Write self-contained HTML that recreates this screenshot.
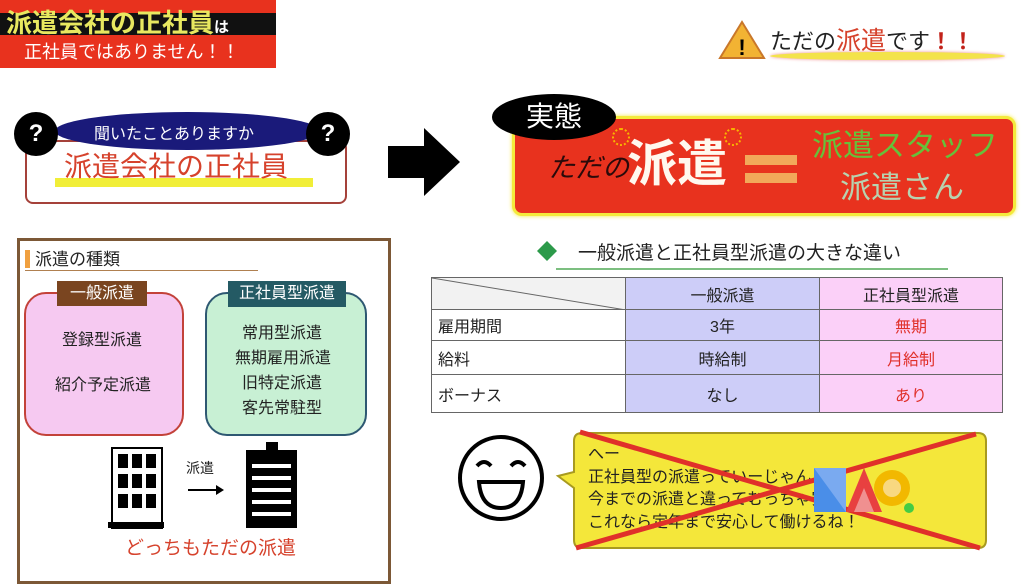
<!DOCTYPE html>
<html><head><meta charset="utf-8"><style>
body{margin:0;width:1024px;height:564px;position:relative;overflow:hidden;background:#fff;font-family:"Liberation Sans","Noto Sans CJK JP",sans-serif}
.a{position:absolute;white-space:nowrap}
td{border:1px solid #666;font-size:16px;padding:0 6px;color:#222}
</style></head><body>
<!-- top-left banner -->
<div class="a" style="left:0;top:0;width:276px;height:68px;background:#e8321e"></div>
<div class="a" style="left:0;top:13px;width:276px;height:22px;background:#111"></div>
<div class="a" style="left:6px;top:6px;font-size:26px;font-weight:bold;color:#e8e860;line-height:34px">派遣会社の正社員<span style="font-size:15px;color:#fff">は</span></div>
<div class="a" style="left:24px;top:39px;font-size:18px;color:#fff;line-height:26px">正社員ではありません！！</div>
<!-- question -->
<div class="a" style="left:25px;top:140px;width:318px;height:60px;border:2px solid #a5413a;border-radius:8px"></div>
<div class="a" style="left:55px;top:112px;width:265px;height:38px;background:#1a1a7a;border-radius:50%"></div>
<div class="a" style="left:94px;top:120px;font-size:16px;color:#fff">聞いたことありますか</div>
<div class="a" style="left:14px;top:112px;width:44px;height:44px;background:#000;border-radius:50%;color:#fff;font-size:24px;font-weight:bold;text-align:center;line-height:44px">?</div>
<div class="a" style="left:306px;top:112px;width:44px;height:44px;background:#000;border-radius:50%;color:#fff;font-size:24px;font-weight:bold;text-align:center;line-height:44px">?</div>
<div class="a" style="left:55px;top:178px;width:258px;height:9px;background:#f1ee38"></div>
<div class="a" style="left:64px;top:148px;font-size:28px;color:#d6422c;line-height:38px">派遣会社の正社員</div>
<!-- big arrow -->
<svg class="a" style="left:386px;top:126px" width="76" height="72"><polygon points="2,20 38,20 38,2 74,36 38,70 38,52 2,52" fill="#000"/></svg>
<!-- warning -->
<svg class="a" style="left:718px;top:20px" width="48" height="40"><polygon points="24,2 46,38 2,38" fill="#f2b333" stroke="#c9772a" stroke-width="2"/><text x="24" y="35" font-size="22" font-weight="bold" text-anchor="middle" fill="#000" font-family="Liberation Sans">!</text></svg>
<div class="a" style="left:770px;top:52px;width:235px;height:8px;background:#f3e34a;border-radius:50%;box-shadow:0 0 3px #e88"></div>
<div class="a" style="left:770px;top:25px;font-size:22px;color:#222;line-height:32px">ただの<span style="color:#d6422c;font-size:25px">派遣</span>です<b style="color:#c2221a">！！</b></div>
<!-- 実態 -->
<div class="a" style="left:512px;top:116px;width:498px;height:94px;background:#e8321e;border:3px solid #f4ea3c;border-radius:10px;box-shadow:0 0 4px #f4ea3c"></div>
<div class="a" style="left:492px;top:94px;width:124px;height:46px;background:#000;border-radius:50%;color:#fff;font-size:28px;text-align:center;line-height:46px">実態</div>
<div class="a" style="left:548px;top:150px;font-size:27px;color:#2a0a0a;font-style:italic;line-height:36px">ただの</div>
<div class="a" style="left:627px;top:134px;font-size:50px;color:#fff8ee;font-weight:bold;line-height:60px">派遣</div>
<div class="a" style="left:612px;top:128px;width:14px;height:14px;border:2px dotted #f8b400;border-radius:50%"></div>
<div class="a" style="left:724px;top:128px;width:14px;height:14px;border:2px dotted #f8b400;border-radius:50%"></div>
<div class="a" style="left:745px;top:155px;width:52px;height:10px;background:#f2a85a"></div>
<div class="a" style="left:745px;top:173px;width:52px;height:10px;background:#f2a85a"></div>
<div class="a" style="left:812px;top:126px;font-size:31px;color:#66c13a;line-height:40px">派遣スタッフ</div>
<div class="a" style="left:840px;top:168px;font-size:31px;color:#b7d3b0;line-height:40px">派遣さん</div>
<!-- left box -->
<div class="a" style="left:17px;top:238px;width:368px;height:340px;border:3px solid #7c5836"></div>
<div class="a" style="left:25px;top:250px;width:5px;height:18px;background:#f0a040"></div>
<div class="a" style="left:35px;top:245px;font-size:17px;color:#222">派遣の種類</div>
<div class="a" style="left:25px;top:270px;width:233px;height:1px;background:#b08050"></div>
<div class="a" style="left:24px;top:292px;width:160px;height:144px;background:#f6c9f1;border:2px solid #c3423a;border-radius:22px;box-sizing:border-box"></div>
<div class="a" style="left:57px;top:281px;width:90px;height:25px;background:#7a4520;color:#fff;font-size:16px;text-align:center;line-height:25px">一般派遣</div>
<div class="a" style="left:62px;top:326px;font-size:16px;color:#222">登録型派遣</div>
<div class="a" style="left:55px;top:371px;font-size:16px;color:#222">紹介予定派遣</div>
<div class="a" style="left:205px;top:292px;width:162px;height:144px;background:#c8f0d4;border:2px solid #2e5872;border-radius:22px;box-sizing:border-box"></div>
<div class="a" style="left:228px;top:281px;width:118px;height:26px;background:#245a64;color:#fff;font-size:16px;text-align:center;line-height:26px">正社員型派遣</div>
<div class="a" style="left:242px;top:321px;font-size:16px;color:#222;line-height:25px">常用型派遣<br><span style="margin-left:-7px">無期雇用派遣</span><br>旧特定派遣<br>客先常駐型</div>
<svg class="a" style="left:108px;top:440px" width="200" height="92">
<rect x="4" y="8" width="50" height="80" fill="#fff" stroke="#000" stroke-width="2"/>
<rect x="0" y="82" width="56" height="6" fill="#000"/>
<g fill="#000"><rect x="10" y="14" width="10" height="14"/><rect x="24" y="14" width="10" height="14"/><rect x="38" y="14" width="10" height="14"/>
<rect x="10" y="34" width="10" height="14"/><rect x="24" y="34" width="10" height="14"/><rect x="38" y="34" width="10" height="14"/>
<rect x="10" y="54" width="10" height="14"/><rect x="24" y="54" width="10" height="14"/><rect x="38" y="54" width="10" height="14"/></g>
<line x1="80" y1="50" x2="108" y2="50" stroke="#000" stroke-width="2"/><polygon points="108,45 116,50 108,55" fill="#000"/>
<rect x="138" y="10" width="51" height="78" fill="#000"/><rect x="158" y="2" width="12" height="10" fill="#000"/>
<g fill="#fff"><rect x="144" y="24" width="39" height="4"/><rect x="144" y="36" width="39" height="4"/><rect x="144" y="48" width="39" height="4"/><rect x="144" y="60" width="39" height="4"/><rect x="144" y="72" width="39" height="4"/></g>
</svg>
<div class="a" style="left:186px;top:458px;font-size:14px;color:#222">派遣</div>
<div class="a" style="left:125px;top:533px;font-size:19px;color:#d6422c">どっちもただの派遣</div>
<!-- table heading -->
<svg class="a" style="left:536px;top:240px" width="22" height="22"><polygon points="11,1 21,11 11,21 1,11" fill="#2c9a4a"/></svg>
<div class="a" style="left:578px;top:238px;font-size:19px;color:#222">一般派遣と正社員型派遣の大きな違い</div>
<div class="a" style="left:556px;top:268px;width:392px;height:2px;background:#7cbf80"></div>
<table class="a" style="left:431px;top:277px;width:572px;height:135px;border-collapse:collapse">
<tr style="height:32px"><td style="width:181px;background:#f2f2f2;position:relative"><svg style="position:absolute;left:0;top:0" width="194" height="32"><line x1="0" y1="0" x2="194" y2="32" stroke="#666"/></svg></td><td style="width:181px;background:#cdcdf8;text-align:center">一般派遣</td><td style="background:#fbd0f8;text-align:center">正社員型派遣</td></tr>
<tr style="height:31px"><td>雇用期間</td><td style="background:#cdcdf8;text-align:center">3年</td><td style="background:#fbd0f8;text-align:center;color:#e0302a">無期</td></tr>
<tr style="height:34px"><td>給料</td><td style="background:#cdcdf8;text-align:center">時給制</td><td style="background:#fbd0f8;text-align:center;color:#e0302a">月給制</td></tr>
<tr style="height:38px"><td>ボーナス</td><td style="background:#cdcdf8;text-align:center">なし</td><td style="background:#fbd0f8;text-align:center;color:#e0302a">あり</td></tr>
</table>
<!-- smiley -->
<svg class="a" style="left:455px;top:432px" width="92" height="92"><circle cx="46" cy="46" r="41" fill="#fff" stroke="#000" stroke-width="4"/>
<path d="M22 34 Q29 26 36 34 M56 34 Q63 26 70 34" fill="none" stroke="#000" stroke-width="4"/>
<path d="M24 50 H68 Q66 76 46 76 Q26 76 24 50 Z" fill="#fff" stroke="#000" stroke-width="4"/></svg>
<!-- bubble -->
<svg class="a" style="left:540px;top:428px" width="484" height="124">
<path d="M42 5 H438 Q446 5 446 13 V112 Q446 120 438 120 H42 Q34 120 34 112 V60 L18 48 L34 44 V13 Q34 5 42 5 Z" fill="#f4e73a" stroke="#a89a20" stroke-width="2"/>
</svg>
<div class="a" style="left:588px;top:444px;font-size:16px;color:#222;line-height:22.5px">へー<br>正社員型の派遣っていーじゃん！<br>今までの派遣と違ってむっちゃ安心<br>これなら定年まで安心して働けるね！</div>
<svg class="a" style="left:540px;top:428px" width="484" height="124">
<line x1="40" y1="4" x2="440" y2="120" stroke="#e0302a" stroke-width="5"/>
<line x1="436" y1="6" x2="36" y2="120" stroke="#e0302a" stroke-width="5"/>
<rect x="274" y="40" width="32" height="44" fill="#4a8ee8"/><polygon points="274,40 306,84 306,40" fill="#7aaaf0"/>
<polygon points="306,84 324,40 342,84" fill="#e84040"/><polygon points="314,84 324,60 334,84" fill="#f09090"/>
<circle cx="352" cy="60" r="18" fill="#f2b800"/><circle cx="352" cy="60" r="9" fill="#f8d880"/>
<circle cx="369" cy="80" r="5" fill="#4c4"/>
</svg>
</body></html>
